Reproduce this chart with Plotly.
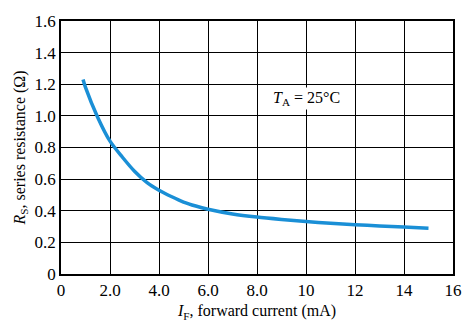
import plotly.graph_objects as go

# Series resistance vs forward current
current_ma = [0.9, 1.0, 1.5, 2.0, 2.5, 3.0, 3.5, 4.0, 4.5, 5.0, 5.5, 6.0, 7.0, 8.0, 9.0, 10.0, 11.0, 12.0, 13.0, 14.0, 15.0]
resistance_ohm = [1.23, 1.18, 0.99, 0.84, 0.74, 0.65, 0.58, 0.53, 0.49, 0.455, 0.43, 0.41, 0.38, 0.36, 0.345, 0.332, 0.321, 0.312, 0.304, 0.297, 0.29]

x_tickvals = [0, 2, 4, 6, 8, 10, 12, 14, 16]
x_ticktext = ["0", "2.0", "4.0", "6.0", "8.0", "10", "12", "14", "16"]
y_tickvals = [0, 0.2, 0.4, 0.6, 0.8, 1.0, 1.2, 1.4, 1.6]
y_ticktext = ["0", "0.2", "0.4", "0.6", "0.8", "1.0", "1.2", "1.4", "1.6"]

font_family = "Liberation Serif"

fig = go.Figure()
fig.add_trace(go.Scatter(
    x=current_ma, y=resistance_ohm, mode="lines",
    line=dict(color="#1a8fd6", width=3.5, shape="spline", smoothing=0.8),
    showlegend=False,
))

fig.add_annotation(
    x=10.0, y=1.11, xref="x", yref="y",
    text="<i>T</i><sub>A</sub> = 25°C", showarrow=False,
    font=dict(family=font_family, size=16, color="black"),
    bgcolor="white",
)

axis_common = dict(
    showline=True, linecolor="black", linewidth=1.5, mirror=True,
    showgrid=True, gridcolor="black", gridwidth=1.2,
    zeroline=False, ticks="", tickfont=dict(family=font_family, size=17, color="black"),
)

fig.update_xaxes(
    range=[0, 16], tickvals=x_tickvals, ticktext=x_ticktext,
    title=dict(text="<i>I</i><sub>F</sub>, forward current (mA)",
               font=dict(family=font_family, size=16, color="black"), standoff=6),
    **axis_common,
)
fig.update_yaxes(
    range=[0, 1.6], tickvals=y_tickvals, ticktext=y_ticktext,
    title=dict(text="<i>R</i><sub>S</sub>, series resistance (Ω)",
               font=dict(family=font_family, size=16, color="black"), standoff=5),
    **axis_common,
)

fig.update_layout(
    width=474, height=329,
    margin=dict(l=61, r=21, t=16, b=53),
    paper_bgcolor="white", plot_bgcolor="white",
)

fig.write_html("out.html")
